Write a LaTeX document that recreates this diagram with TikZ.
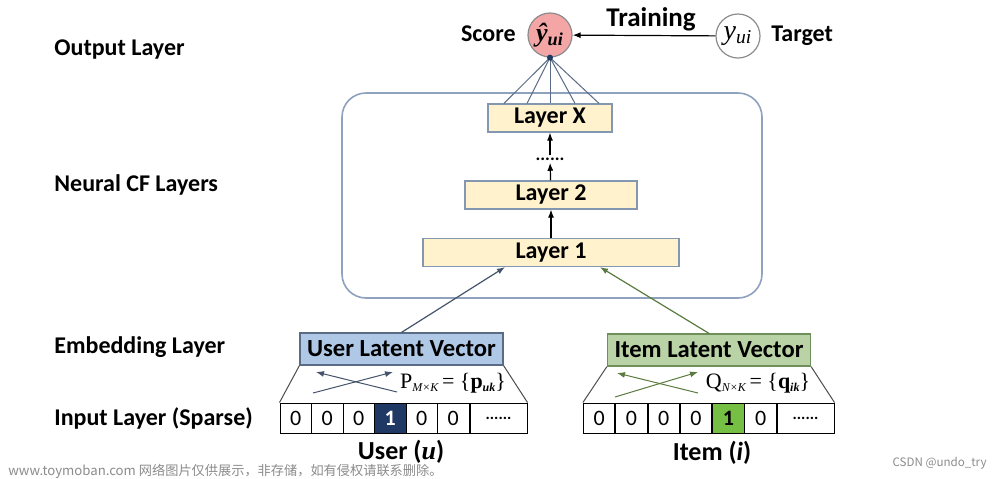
\documentclass[tikz,border=0pt]{standalone}
\usepackage{fontspec}
\setmainfont{Carlito}
\newfontfamily\serif{Liberation Serif}
\newfontfamily\cjk{Noto Sans CJK SC}
\usetikzlibrary{arrows.meta,calc}
\definecolor{layerfill}{HTML}{FFF2CC}
\definecolor{layerline}{HTML}{8497B0}
\definecolor{boxline}{HTML}{8FA2BD}
\definecolor{scorefill}{HTML}{F4A6A6}
\definecolor{circline}{HTML}{8C8C8C}
\definecolor{userfill}{HTML}{AEC8E6}
\definecolor{userline}{HTML}{5A6B85}
\definecolor{useredge}{HTML}{44546A}
\definecolor{itemfill}{HTML}{BAD3A6}
\definecolor{itemline}{HTML}{6F8F5A}
\definecolor{itemedge}{HTML}{5B7A3F}
\definecolor{onenavy}{HTML}{1F3864}
\definecolor{onegreen}{HTML}{76BF45}
\tikzset{
  lab/.style={font=\fontsize{12}{14}\selectfont\bfseries, inner sep=1pt},
  sidelab/.style={lab, anchor=west},
  layerbox/.style={draw=layerline, fill=layerfill, line width=0.6pt, lab, minimum height=14pt},
  latent/.style={lab, font=\fontsize{12.3}{14}\selectfont\bfseries, line width=0.6pt,
    minimum width=101.5pt, minimum height=16pt},
  cell/.style={draw=black, line width=0.5pt, minimum width=15.75pt, minimum height=15pt,
    inner sep=0pt, font=\fontsize{11}{13}\selectfont},
  yvar/.style={circle, draw=circline, line width=0.6pt, minimum size=22pt, inner sep=0pt,
    font=\fontsize{13}{15}\selectfont\serif\bfseries\itshape},
  arr/.style={-{Latex[length=4pt,width=3pt]}, line width=0.6pt},
  mat/.style={font=\fontsize{11}{12}\selectfont\serif, inner sep=0pt}
}
\newcommand{\low}[1]{\textsubscript{\itshape #1}}
\newcommand{\tinylow}[1]{\raisebox{-0.3ex}{\fontsize{6}{7}\selectfont\itshape #1}}
\begin{document}
\begin{tikzpicture}[x=0.5pt, y=-0.5pt]
  \useasboundingbox[fill=white] (0,0) rectangle (1000,478);
  % side labels
  \node[sidelab] (outlab) at (52,50) {Output Layer};
  \node[sidelab] (ncflab) at (52,185) {Neural CF Layers};
  \node[sidelab] (emblab) at (52,347) {Embedding Layer};
  \node[sidelab] (inplab) at (52,418) {Input Layer (Sparse)};
  % output
  \node[yvar, fill=scorefill] (score) at (550,35) {ŷ\low{ui}};
  \node[yvar, fill=white, font=\fontsize{14}{16}\selectfont\serif\itshape] (target) at (738,36) {y\low{ui}};
  \node[lab, anchor=east] (scorelab) at (518,34) {Score};
  \node[lab, anchor=west] (targetlab) at (769,36) {Target};
  \node[lab, font=\fontsize{13.5}{15}\selectfont\bfseries] (trainlab) at (651,19) {Training};
  \draw[arr] (target) -- (score);
  % neural CF layers
  \draw[boxline, line width=0.8pt, rounded corners=12pt] (342,93) rectangle (762,298);
  \node[layerbox, minimum width=62pt] (layerx) at (550,118) {Layer X};
  \node[inner sep=1pt, font=\fontsize{9}{10}\selectfont\bfseries] (dots) at (550,159) {......};
  \node[layerbox, minimum width=86pt] (layertwo) at (551,195) {Layer 2};
  \node[layerbox, minimum width=128pt] (layerone) at (551,252.5) {Layer 1};
  \draw[arr] (layerone) -- (layertwo);
  \draw[arr] (layertwo) -- (dots);
  \draw[arr] (dots) -- (layerx);
  \foreach \dx in {-23,-11.5,0,12.5,24.5}
    \draw[userline, line width=0.5pt] (score.south) -- ([xshift=\dx pt]layerx.north);
  \fill[onenavy] (score.south) circle (1.5pt);
  % embedding layer
  \node[latent, draw=userline, fill=userfill] (userlv) at (401.5,349) {User Latent Vector};
  \node[latent, draw=itemline, fill=itemfill] (itemlv) at (709,350) {Item Latent Vector};
  \draw[arr, useredge] (userlv.north) -- ([xshift=-23pt]layerone.south);
  \draw[arr, itemedge] (itemlv.north) -- ([xshift=24.5pt]layerone.south);
  % input layer
  \foreach \v [count=\k] in {0,0,0,1,0,0}
    \node[cell] (u\k) at ({280+31.5*(\k-0.5)},418) {\v};
  \node[cell, minimum width=28.5pt, font=\fontsize{8}{9}\selectfont\bfseries] (udots) at (498.5,418) {......};
  \node[cell, fill=onenavy, text=white, font=\fontsize{11}{13}\selectfont\bfseries] at (u4) {1};
  \foreach \v [count=\k] in {0,0,0,0,1,0}
    \node[cell] (i\k) at ({583+32.3*(\k-0.5)},418) {\v};
  \node[cell, minimum width=28.5pt, font=\fontsize{8}{9}\selectfont\bfseries] (idots) at (805.5,418) {......};
  \node[cell, fill=onegreen, font=\fontsize{11}{13}\selectfont\bfseries] at (i5) {1};
  % projections
  \draw[black!70, line width=0.5pt] (userlv.south west) -- (u1.north west);
  \draw[black!70, line width=0.5pt] (userlv.south east) -- (udots.north east);
  \draw[black!70, line width=0.5pt] (itemlv.south west) -- (i1.north west);
  \draw[black!70, line width=0.5pt] (itemlv.south east) -- (idots.north east);
  \draw[arr, useredge, line width=0.5pt] (313,393) -- (393,372);
  \draw[arr, useredge, line width=0.5pt] (397,392) -- (316,372);
  \draw[arr, itemedge, line width=0.5pt] (615,397) -- (698,372);
  \draw[arr, itemedge, line width=0.5pt] (698,393) -- (617,373);
  \node[mat] (pmat) at (453,383) {P\tinylow{M×K}\,= \{\textbf{p}\tinylow{\bfseries uk}\}};
  \node[mat] (qmat) at (758,383) {Q\tinylow{N×K}\,= \{\textbf{q}\tinylow{\bfseries ik}\}};
  \node[lab, font=\fontsize{13}{15}\selectfont\bfseries] (userlab) at (401,452) {User ({\serif\itshape u})};
  \node[lab, font=\fontsize{13}{15}\selectfont\bfseries] (itemlab) at (712,453) {Item (\textit{i})};
  % watermark
  \node[anchor=west, text=black!45, inner sep=0pt, font=\fontsize{6.6}{8}\cjk] (wmark) at (8,471) {www.toymoban.com 网络图片仅供展示，非存储，如有侵权请联系删除。};
  \node[anchor=east, text=black!45, inner sep=0pt, font=\fontsize{5.8}{7}\cjk] (csdn) at (987,463) {CSDN @undo\_try};
\end{tikzpicture}
\end{document}
